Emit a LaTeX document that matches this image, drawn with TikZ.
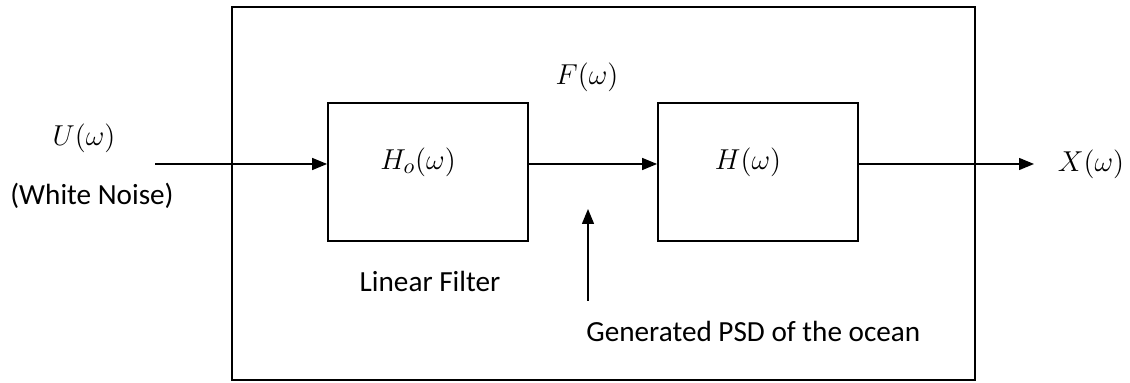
\documentclass[tikz,border=0pt]{standalone}
\usepackage{amsmath}
\usepackage{fontspec}
\setmainfont{Carlito}
\usepackage{tikz}
\usetikzlibrary{arrows.meta,positioning}

\begin{document}
\begin{tikzpicture}[
    x=0.5pt, y=-0.5pt,
    block/.style={draw, line width=0.9pt, minimum width=100pt, minimum height=69pt, inner sep=0pt},
    frame/.style={draw, line width=1.1pt, minimum width=371.5pt, minimum height=186.5pt, inner sep=0pt},
    arrow/.style={-{Triangle[length=7.5pt,width=6pt]}, line width=0.7pt},
    label/.style={font=\fontsize{14.6}{17}\selectfont, inner sep=0pt},
    mathlabel/.style={font=\fontsize{15.5}{18}\selectfont, inner sep=0pt}
]
\useasboundingbox (0,0) rectangle (1130,383);

% Bloque exterior
\node[frame] (sys) at (603.5,193.5) {};

% Filtros
\node[block] (ho) at (428,172) {};
\node[block] (h) at (758,172) {};
\node[mathlabel] (holab) at (418,162) {$H_o(\omega)$};
\node[mathlabel] (hlab) at (748,162) {$H(\omega)$};

% Etiquetas
\node[mathlabel] (u) at (84,138) {$U(\omega)$};
\node[label] (wn) at (92,196) {(White Noise)};
\node[mathlabel] (f) at (587,77) {$F(\omega)$};
\node[mathlabel] (x) at (1091,164) {$X(\omega)$};
\node[label] (lf) at (430,281) {Linear Filter};
\node[label, anchor=west] (psd) at (586,331) {Generated PSD of the ocean};

% Conexiones
\coordinate (in) at (155,164);
\coordinate (out) at (1034,164);
\coordinate (psdtail) at (588,301);
\coordinate (psdtip) at (588,209);
\draw[arrow] (in) -- (in -| ho.west);
\draw[arrow] (ho.east |- in) -- (h.west |- in);
\draw[arrow] (h.east |- in) -- (out);
\draw[arrow] (psdtail) -- (psdtip);

\end{tikzpicture}
\end{document}
